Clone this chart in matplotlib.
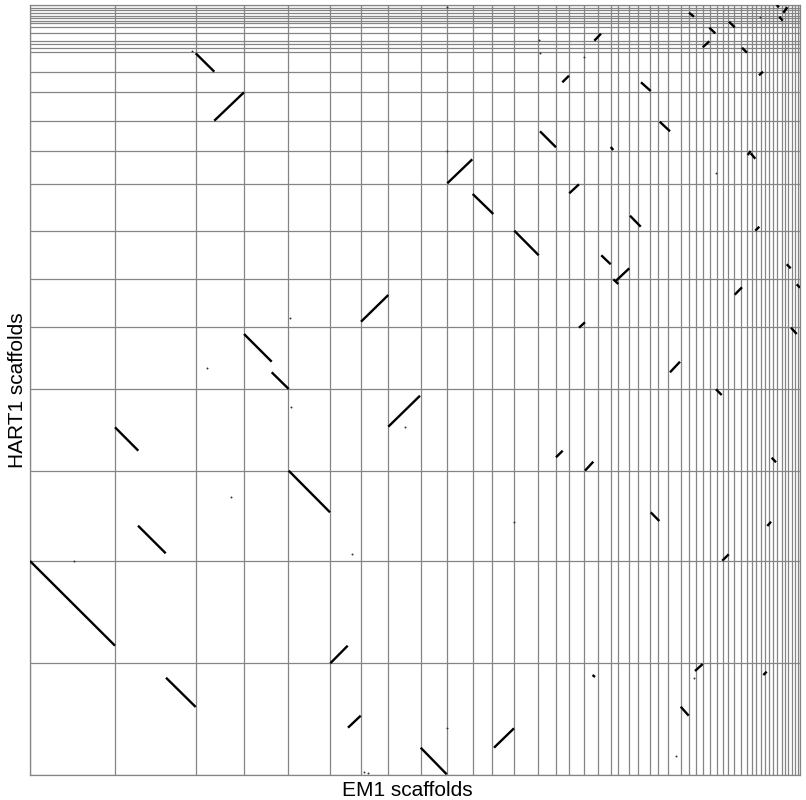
import numpy as np
import matplotlib
matplotlib.use("Agg")
import matplotlib.pyplot as plt

plt.rcParams['font.family'] = ['Liberation Sans', 'DejaVu Sans']

# scaffold lengths (Mb), in plotting order
em1_lengths = [8.5, 8.1, 4.8, 4.4, 4.2, 3.1, 2.7, 3.27, 2.6, 2.6, 1.9, 2.23, 2.4, 1.8,
               1.3, 1.5, 1.4, 1.3, 0.7, 1.1, 0.9, 1.2, 0.8, 1.0, 1.3, 0.8, 0.7, 0.7,
               0.7, 0.7, 0.6, 0.5, 0.6, 0.7, 0.6, 0.5, 0.4, 0.5, 0.4, 0.4, 0.4, 0.4,
               0.5, 0.3, 0.3, 0.4, 0.3, 0.3, 0.2]
hart1_lengths = [11.17, 10.26, 9.0, 8.17, 6.17, 4.8, 4.83, 4.7, 3.33, 3.0, 2.9, 1.97,
                 1.95, 0.45, 0.35, 0.35, 0.8, 0.6, 0.4, 0.25, 0.3, 0.2, 0.3, 0.25,
                 0.25, 0.25]

# alignment blocks: EM1 start, HART1 start, EM1 end, HART1 end (cumulative Mb)
aln_x1 = [16.57, 18.43, 56.43, 53.23, 61.10, 62.97, 51.00, 58.07, 41.73, 53.93, 71.77, 72.07,
          65.90, 67.93, 67.27, 69.90, 71.20, 72.90, 74.67, 75.33, 74.93, 21.40, 24.17, 33.10,
          44.27, 48.43, 60.00, 57.13, 58.50, 58.33, 72.53, 75.67, 76.67, 70.47, 54.90, 76.10,
          64.00, 68.60, 35.83, 52.60, 55.50, 74.17, 62.07, 73.73, 69.23, 8.50, 25.87, 10.80,
          0.00, 30.03, 13.60, 31.80, 39.07, 46.40, 65.07, 66.50, 73.33, 56.25]
aln_y1 = [72.17, 65.43, 73.43, 69.27, 69.27, 65.33, 64.37, 62.80, 59.17, 58.17, 62.00, 62.17,
          76.23, 74.73, 72.77, 75.33, 72.73, 69.97, 77.00, 76.23, 75.83, 44.10, 40.27, 45.33,
          58.10, 54.43, 55.93, 51.97, 49.33, 49.57, 54.43, 51.07, 49.07, 48.03, 44.73, 44.73,
          40.27, 38.57, 34.83, 31.77, 30.43, 31.73, 26.27, 24.90, 21.43, 34.77, 30.43, 24.93,
          21.40, 11.17, 9.73, 4.73, 2.73, 2.73, 6.83, 10.40, 10.00, 10.00]
aln_x2 = [18.43, 21.40, 57.10, 53.90, 62.07, 64.00, 52.60, 58.33, 44.23, 54.90, 72.07, 72.53,
          66.40, 68.53, 67.93, 70.47, 71.70, 73.30, 74.90, 75.73, 75.27, 24.17, 25.87, 35.83,
          46.33, 50.87, 61.07, 58.07, 59.93, 58.83, 72.93, 76.07, 77.00, 71.20, 55.50, 76.67,
          65.00, 69.17, 39.00, 53.27, 56.33, 74.60, 62.93, 74.10, 69.87, 10.83, 30.00, 13.57,
          8.50, 31.77, 16.57, 33.07, 41.67, 48.40, 65.87, 67.27, 73.67, 56.50]
aln_y2 = [70.33, 68.27, 74.13, 69.93, 68.40, 64.37, 62.77, 62.50, 61.57, 59.07, 62.40, 61.63,
          75.83, 74.17, 73.37, 74.77, 72.23, 70.33, 76.77, 76.77, 75.43, 41.33, 38.60, 48.00,
          56.10, 51.97, 54.83, 51.07, 50.67, 49.10, 54.83, 50.67, 48.73, 48.77, 45.27, 44.10,
          41.33, 38.00, 37.93, 32.43, 31.33, 31.27, 25.40, 25.33, 22.07, 32.43, 26.27, 22.17,
          12.93, 12.93, 6.80, 5.93, 0.07, 4.67, 5.93, 11.10, 10.33, 9.80]

# short isolated hits
hit_x = [16.17, 50.93, 51.00, 55.37, 68.57, 73.00, 41.67, 41.67, 17.73, 26.00, 37.50,
         48.43, 26.10, 20.10, 32.17, 4.40, 33.43, 33.83, 66.40, 64.63, 41.67]
hit_y = [72.43, 73.50, 72.23, 71.77, 60.23, 75.77, 62.43, 76.83, 40.73, 45.73, 34.83,
         25.33, 36.83, 27.77, 22.07, 21.40, 0.27, 0.17, 9.73, 1.87, 4.67]

em1_bounds = np.concatenate([[0], np.cumsum(em1_lengths)])
hart1_bounds = np.concatenate([[0], np.cumsum(hart1_lengths)])

fig = plt.figure(figsize=(8.06, 8.0), dpi=100)
ax = fig.add_axes([30 / 806, 25 / 800, 770 / 806, 770 / 800])

grid_col = '#858585'
for b in em1_bounds:
    ax.axvline(b, color=grid_col, lw=0.9, zorder=1)
for b in hart1_bounds:
    ax.axhline(b, color=grid_col, lw=0.9, zorder=1)

for x1, y1, x2, y2 in zip(aln_x1, aln_y1, aln_x2, aln_y2):
    ax.plot([x1, x2], [y1, y2], color='black', lw=1.7, solid_capstyle='butt', zorder=3)
ax.plot(hit_x, hit_y, 'o', color='#333333', ms=1.4, mew=0, zorder=3)

ax.set_xlim(em1_bounds[0], em1_bounds[-1])
ax.set_ylim(hart1_bounds[0], hart1_bounds[-1])
ax.set_xticks([])
ax.set_yticks([])
for s in ax.spines.values():
    s.set_color(grid_col)
    s.set_linewidth(0.9)

ax.set_xlabel('EM1 scaffolds', fontsize=15, labelpad=3)
ax.xaxis.set_label_coords(0.49, -0.008, transform=ax.transAxes)
ax.xaxis.label.set_va('top')
ax.set_ylabel('HART1 scaffolds', fontsize=15, labelpad=2)

fig.savefig('out.png', dpi=100)
